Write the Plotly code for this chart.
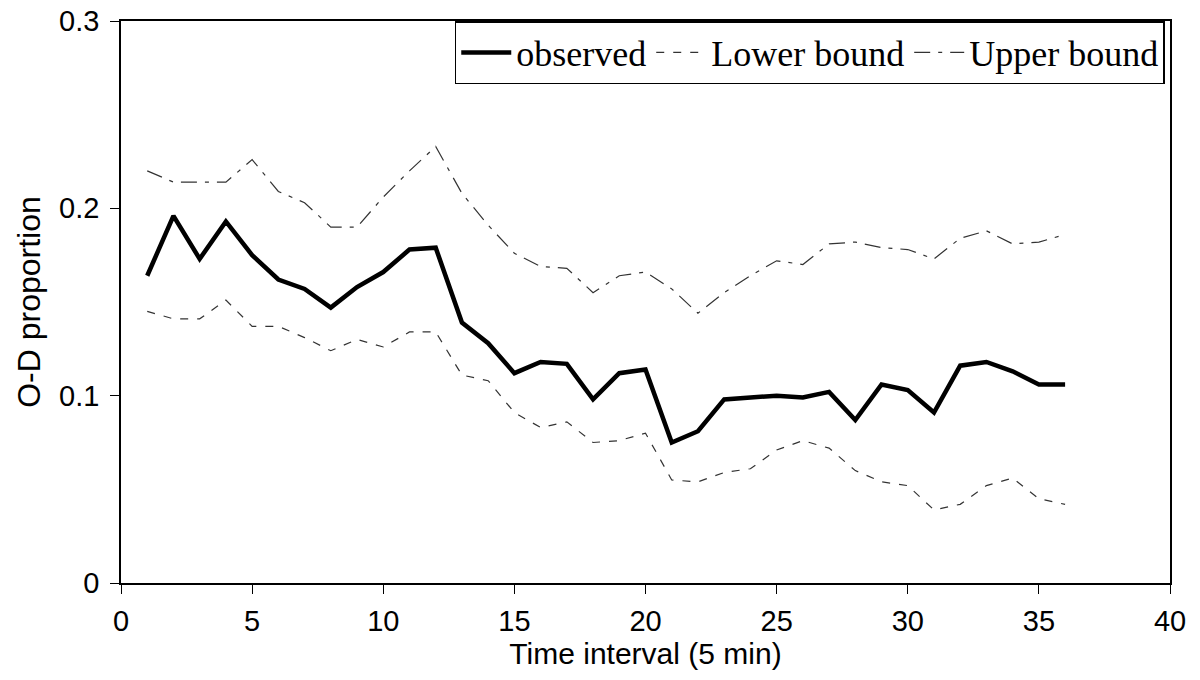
import plotly.graph_objects as go

intervals = list(range(1, 37))
observed = [0.164, 0.196, 0.173, 0.193, 0.175, 0.162, 0.157, 0.147, 0.158, 0.166,
            0.178, 0.179, 0.139, 0.128, 0.112, 0.118, 0.117, 0.098, 0.112, 0.114,
            0.075, 0.081, 0.098, 0.099, 0.100, 0.099, 0.102, 0.087, 0.106, 0.103,
            0.091, 0.116, 0.118, 0.113, 0.106, 0.106]
upper = [0.220, 0.214, 0.214, 0.214, 0.226, 0.209, 0.203, 0.190, 0.190, 0.206,
         0.220, 0.233, 0.208, 0.191, 0.176, 0.169, 0.168, 0.155, 0.164, 0.166,
         0.157, 0.144, 0.155, 0.164, 0.172, 0.170, 0.181, 0.182, 0.179, 0.178,
         0.173, 0.184, 0.188, 0.181, 0.182, 0.186]
lower = [0.145, 0.141, 0.141, 0.151, 0.137, 0.137, 0.131, 0.124, 0.130, 0.126,
         0.134, 0.134, 0.111, 0.108, 0.091, 0.083, 0.086, 0.075, 0.076, 0.080,
         0.055, 0.054, 0.059, 0.061, 0.071, 0.076, 0.072, 0.060, 0.054, 0.052,
         0.039, 0.042, 0.052, 0.056, 0.045, 0.042]

x_ticks = [0, 5, 10, 15, 20, 25, 30, 35, 40]
y_ticks = [0, 0.1, 0.2, 0.3]
y_tick_labels = ["0", "0.1", "0.2", "0.3"]

NARROW = "Liberation Sans Narrow, Arial Narrow, Liberation Sans, sans-serif"

fig = go.Figure()
fig.add_trace(go.Scatter(x=intervals, y=observed, mode="lines", name="observed",
                         line=dict(color="black", width=4.5)))
fig.add_trace(go.Scatter(x=intervals, y=lower, mode="lines", name="Lower bound",
                         line=dict(color="#333333", width=1.2, dash="8px,9px")))
fig.add_trace(go.Scatter(x=intervals, y=upper, mode="lines", name="Upper bound",
                         line=dict(color="#333333", width=1.2, dash="16px,8px,4px,8px")))

fig.update_layout(
    width=1200, height=680,
    margin=dict(l=121, r=30, t=21, b=97, autoexpand=False),
    paper_bgcolor="white", plot_bgcolor="white",
    font=dict(family="Liberation Sans, Arial, sans-serif", size=29, color="black"),
    showlegend=True,
    legend=dict(orientation="h", x=0.995, xanchor="right", y=1.0, yanchor="top",
                bgcolor="white", bordercolor="black", borderwidth=1.5,
                font=dict(family="Liberation Serif, Times New Roman, serif", size=36),
                itemwidth=50, tracegroupgap=0),
)
fig.update_xaxes(range=[0, 40], tickvals=x_ticks, ticks="outside", ticklen=9,
                 tickcolor="black", showline=True, linecolor="black", linewidth=1.5,
                 mirror=True, showgrid=False, zeroline=False, ticklabelstandoff=2,
                 ticklabeloverflow="allow",
                 title=dict(text="Time interval (5 min)", standoff=6,
                            font=dict(family=NARROW, size=30)),
                 tickfont=dict(size=29))
fig.update_yaxes(range=[0, 0.3], tickvals=y_ticks, ticktext=y_tick_labels,
                 ticks="outside", ticklen=9, tickcolor="black", showline=True,
                 linecolor="black", linewidth=1.5, mirror=True, showgrid=False,
                 zeroline=False, ticklabelstandoff=5, ticklabeloverflow="allow",
                 title=dict(text="O-D proportion", standoff=9,
                            font=dict(family=NARROW, size=32)),
                 tickfont=dict(size=29))

# remove the browser's default 8px page margin so the figure fills the window
fig.write_html("out.html",
               config={"displayModeBar": False},
               post_script="document.body.style.margin='0';document.body.style.overflow='hidden';")
